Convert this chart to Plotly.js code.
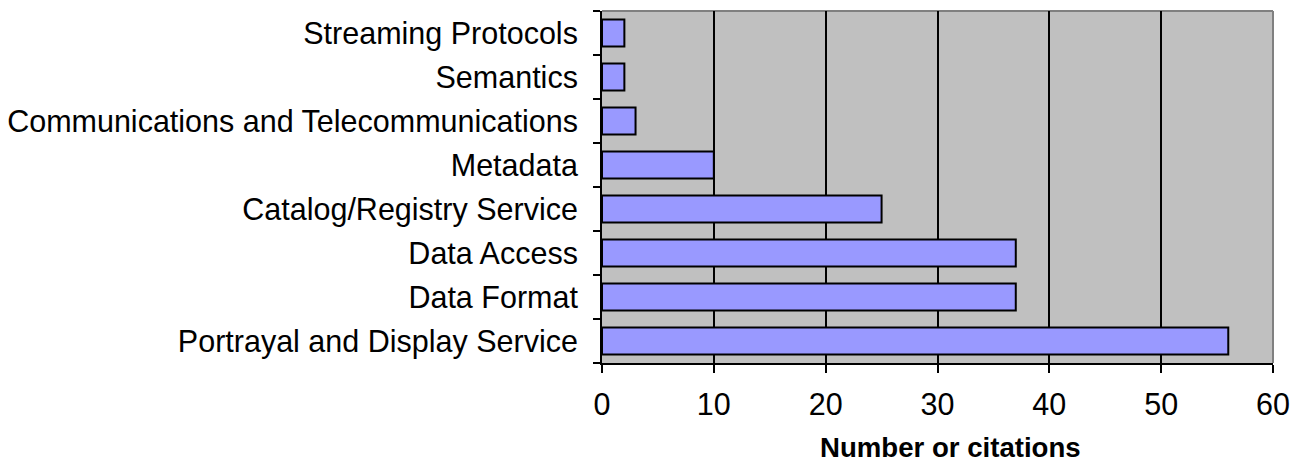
<!DOCTYPE html>
<html>
<head>
<meta charset="utf-8">
<script src="https://cdn.plot.ly/plotly-3.0.1.min.js"></script>
<style>html,body{margin:0;padding:0;background:#fff;}#chart{width:1303px;height:464px;}</style>
</head>
<body>
<div id="chart"></div>
<script>
// categories listed top to bottom
const categories = [
  "Streaming Protocols",
  "Semantics",
  "Communications and Telecommunications",
  "Metadata",
  "Catalog/Registry Service",
  "Data Access",
  "Data Format",
  "Portrayal and Display Service"
];
const citations = [2, 2, 3, 10, 25, 37, 37, 56];
const xTicks = [0, 10, 20, 30, 40, 50, 60];
const xTitle = "Number or citations";

const trace = {
  type: "bar",
  orientation: "h",
  y: categories,
  x: citations,
  marker: {color: "#9999ff", line: {color: "#000000", width: 2}},
  hoverinfo: "x+y"
};

const layout = {
  width: 1303, height: 464,
  margin: {l: 602, r: 30, t: 11, b: 101, pad: 0},
  paper_bgcolor: "#ffffff",
  plot_bgcolor: "#c0c0c0",
  bargap: 0.39,
  showlegend: false,
  font: {family: "Liberation Sans, Arial, sans-serif", color: "#000000", size: 30},
  xaxis: {
    range: [0, 60],
    tickvals: xTicks,
    ticktext: xTicks.map(String),
    showgrid: true, gridcolor: "#000000", gridwidth: 2,
    zeroline: false,
    showline: true, linecolor: "#000000", linewidth: 2,
    ticks: "outside", ticklen: 8, tickwidth: 2, tickcolor: "#000000",
    ticklabelstandoff: 5,
    tickfont: {size: 30.5},
    fixedrange: true
  },
  yaxis: {
    type: "category",
    categoryorder: "array",
    categoryarray: categories.slice().reverse(),
    tickson: "boundaries",
    showgrid: false,
    zeroline: false,
    showline: true, linecolor: "#000000", linewidth: 2,
    ticks: "outside", ticklen: 7, tickwidth: 2, tickcolor: "#000000",
    ticklabelstandoff: 16,
    tickfont: {size: 30.5},
    fixedrange: true
  },
  annotations: [{
    text: "<b>" + xTitle + "</b>",
    xref: "paper", yref: "paper",
    x: 0.52, y: -0.239,
    xanchor: "center", yanchor: "middle",
    showarrow: false,
    font: {size: 27.6, color: "#000000"}
  }],
  shapes: [
    {type: "line", xref: "paper", yref: "paper", x0: 0, x1: 1, y0: 1, y1: 1, line: {color: "#808080", width: 2}, layer: "below"},
    {type: "line", xref: "paper", yref: "paper", x0: 1, x1: 1, y0: 0, y1: 1, line: {color: "#808080", width: 2}, layer: "below"}
  ]
};

Plotly.newPlot("chart", [trace], layout, {displayModeBar: false, staticPlot: true});
</script>
</body>
</html>
